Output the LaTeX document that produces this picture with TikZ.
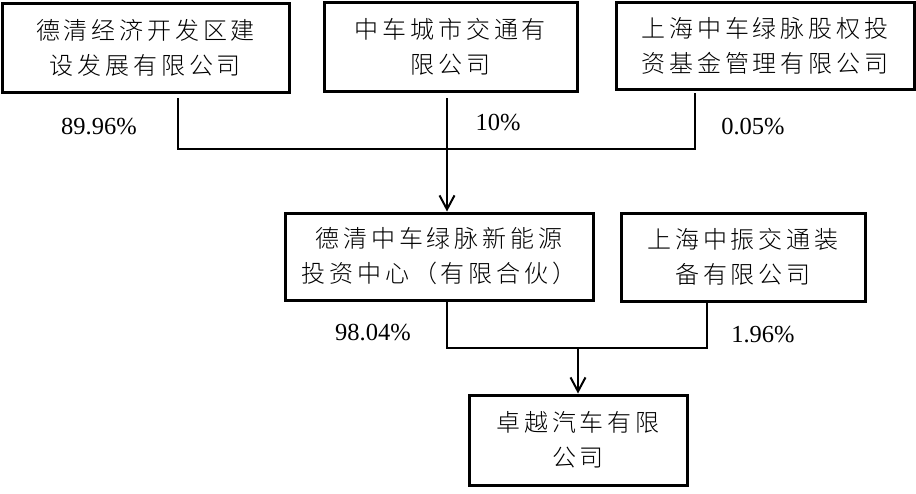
\documentclass[tikz,border=0pt]{standalone}
\usepackage{fontspec}
\setmainfont{Liberation Serif}
\newfontfamily\cjk[LetterSpace=16]{Noto Sans CJK SC Light}
\usetikzlibrary{arrows.meta}
\tikzset{
  cobox/.style={draw=black, line width=3pt, fill=white, inner sep=0pt, align=center,
    font=\cjk\fontsize{24}{35}\selectfont},
  conn/.style={draw=black, line width=2pt},
  arr/.style={conn, -{Straight Barb[length=14pt,width=15pt,line width=2pt]}},
  pct/.style={inner sep=0pt, font=\fontsize{24.5}{27}\selectfont}
}
\begin{document}
\begin{tikzpicture}[x=1pt,y=-1pt]
\useasboundingbox[fill=white] (0,0) rectangle (916,493);
% boxes
\node[cobox, minimum width=287pt, minimum height=89pt] (b1) at (145.5,47.5) {德清经济开发区建\\设发展有限公司};
\node[cobox, minimum width=253pt, minimum height=89pt] (b2) at (450.5,46.5) {中车城市交通有\\限公司};
\node[cobox, minimum width=298pt, minimum height=87pt] (b3) at (765,45.5) {上海中车绿脉股权投\\资基金管理有限公司};
\node[cobox, minimum width=308pt, minimum height=87pt] (b4) at (439,256.5) {德清中车绿脉新能源\\投资中心（有限合伙）};
\node[cobox, minimum width=244pt, minimum height=88pt] (b5) at (743,257) {上海中振交通装\\备有限公司};
\node[cobox, minimum width=218pt, minimum height=90pt] (b6) at (578,440) {卓越汽车有限\\公司};
% labels
\node[pct] (p1) at (99,127) {89.96\%};
\node[pct] (p2) at (498,123) {10\%};
\node[pct] (p3) at (753,127) {0.05\%};
\node[pct] (p4) at (373,333) {98.04\%};
\node[pct] (p5) at (763,335) {1.96\%};
% coordinates
\coordinate (s1) at (178,98);
\coordinate (s2) at (447,98);
\coordinate (s3) at (695,93);
\coordinate (j1) at (447,149);
\coordinate (s4) at (447,301.5);
\coordinate (s5) at (707,301.5);
\coordinate (j2) at (578,348);
% connectors
\draw[conn] (s1) |- (s3 |- j1) -- (s3);
\draw[arr] (s2) -- (b4.north -| s2);
\draw[conn] (s4) |- (s5 |- j2) -- (s5);
\draw[arr] (j2) -- (b6.north -| j2);
\end{tikzpicture}
\end{document}
